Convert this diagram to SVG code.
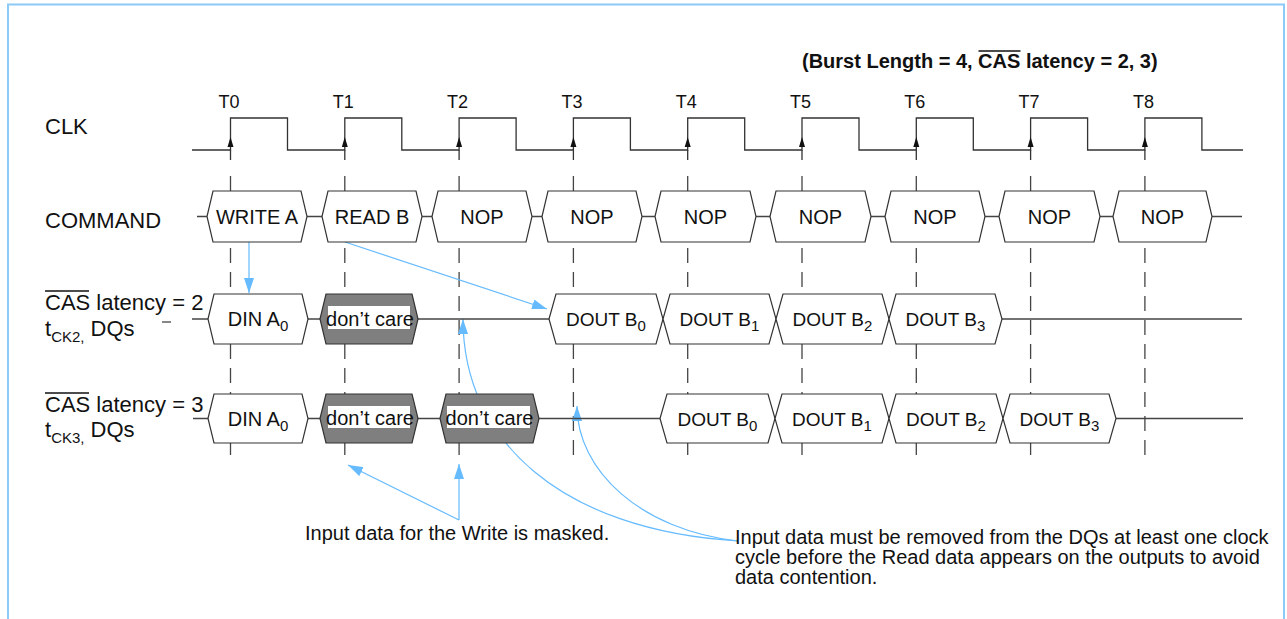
<svg xmlns="http://www.w3.org/2000/svg" width="1287" height="619" viewBox="0 0 1287 619">
<style>
.frame{fill:none;stroke:#8ccaf7;stroke-width:2}
.wave{fill:none;stroke:#333;stroke-width:1.3}
.grid{fill:none;stroke:#444;stroke-width:1.3;stroke-dasharray:15 9}
.row{fill:none;stroke:#444;stroke-width:1.3}
.hex{fill:#fff;stroke:#333;stroke-width:1.2}
.hexg{fill:#7f7f7f;stroke:#333;stroke-width:1.2}
.wbox{fill:#fff}
.t{font-family:"Liberation Sans",Arial,Helvetica,sans-serif;fill:#111}
.lbl{font-size:22px}
.tk{font-size:18px;text-anchor:middle}
.ht{font-size:20px;text-anchor:middle}
.hd{font-size:19px;text-anchor:middle}
.note{font-size:20px}
.sub{font-size:15px}
.ovl{stroke:#111;stroke-width:1.3}
.blue{fill:none;stroke:#66bbff;stroke-width:1.2}
.arr{fill:#111}
</style>
<defs>
<marker id="ah" viewBox="0 0 15 10" refX="15" refY="5" markerWidth="15" markerHeight="10" markerUnits="userSpaceOnUse" orient="auto">
<path d="M0,0 L15,5 L0,10 z" fill="#66bbff"/>
</marker>
</defs>

<g id="frame">
<path class="frame" d="M8,619 V4.5 H1284 V619"/>
</g>

<g id="header">
<text class="t" x="802" y="68" font-size="20" font-weight="bold">(Burst Length = 4, CAS latency = 2, 3)</text>
<line class="ovl" x1="978.5" y1="51" x2="1020.5" y2="51"/>
</g>

<g id="grid">
<line class="grid" x1="230.5" y1="176" x2="230.5" y2="456"/>
<line class="grid" x1="344.8" y1="176" x2="344.8" y2="456"/>
<line class="grid" x1="459.1" y1="176" x2="459.1" y2="456"/>
<line class="grid" x1="573.4" y1="176" x2="573.4" y2="456"/>
<line class="grid" x1="687.7" y1="176" x2="687.7" y2="456"/>
<line class="grid" x1="802" y1="176" x2="802" y2="456"/>
<line class="grid" x1="916.3" y1="176" x2="916.3" y2="456"/>
<line class="grid" x1="1030.6" y1="176" x2="1030.6" y2="456"/>
<line class="grid" x1="1144.9" y1="176" x2="1144.9" y2="456"/>
</g>

<g id="clk">
<text class="t lbl" x="45" y="134">CLK</text>
<path class="wave" d="M192,150 H230.5 V118 H287.5 V150 H344.8 V118 H401.8 V150 H459.1 V118 H516.1 V150 H573.4 V118 H630.4 V150 H687.7 V118 H744.7 V150 H802 V118 H859 V150 H916.3 V118 H973.3 V150 H1030.6 V118 H1087.6 V150 H1144.9 V118 H1201.9 V150 H1243"/>
<path class="wave" d="M230.5,150 V160 M344.8,150 V160 M459.1,150 V160 M573.4,150 V160 M687.7,150 V160 M802,150 V160 M916.3,150 V160 M1030.6,150 V160 M1144.9,150 V160"/>
<path class="arr" d="M230.5,137 l-3,10 h6 z M344.8,137 l-3,10 h6 z M459.1,137 l-3,10 h6 z M573.4,137 l-3,10 h6 z M687.7,137 l-3,10 h6 z M802,137 l-3,10 h6 z M916.3,137 l-3,10 h6 z M1030.6,137 l-3,10 h6 z M1144.9,137 l-3,10 h6 z"/>
<text class="t tk" x="229" y="108">T0</text>
<text class="t tk" x="343.3" y="108">T1</text>
<text class="t tk" x="457.6" y="108">T2</text>
<text class="t tk" x="571.9" y="108">T3</text>
<text class="t tk" x="686.2" y="108">T4</text>
<text class="t tk" x="800.5" y="108">T5</text>
<text class="t tk" x="914.8" y="108">T6</text>
<text class="t tk" x="1029.1" y="108">T7</text>
<text class="t tk" x="1143.4" y="108">T8</text>
</g>

<g id="connectors">
<path class="blue" d="M249,242 V293" marker-end="url(#ah)"/>
<path class="blue" d="M345,242 L547,309" marker-end="url(#ah)"/>
<path class="blue" d="M738,541 C560,530 463,440 463,319" marker-end="url(#ah)"/>
<path class="blue" d="M738,541 C640,530 577,470 577,406" marker-end="url(#ah)"/>
<path class="blue" d="M459,520 V464" marker-end="url(#ah)"/>
<path class="blue" d="M459,520 L348,465" marker-end="url(#ah)"/>
</g>

<g id="command">
<text class="t lbl" x="45" y="228">COMMAND</text>
<line class="row" x1="197" y1="216.5" x2="1242" y2="216.5"/>
<g id="cmd-write-a"><polygon class="hex" points="207,216.5 213,191 301,191 307,216.5 301,242 213,242"/><text class="t ht" x="257" y="223.5">WRITE A</text></g>
<g id="cmd-read-b"><polygon class="hex" points="322,216.5 328,191 416,191 422,216.5 416,242 328,242"/><text class="t ht" x="372" y="223.5">READ B</text></g>
<g id="cmd-nop-t2"><polygon class="hex" points="432,216.5 438,191 526,191 532,216.5 526,242 438,242"/><text class="t ht" x="482" y="223.5">NOP</text></g>
<g id="cmd-nop-t3"><polygon class="hex" points="542,216.5 548,191 636,191 642,216.5 636,242 548,242"/><text class="t ht" x="592" y="223.5">NOP</text></g>
<g id="cmd-nop-t4"><polygon class="hex" points="655,216.5 661,191 750,191 756,216.5 750,242 661,242"/><text class="t ht" x="705.5" y="223.5">NOP</text></g>
<g id="cmd-nop-t5"><polygon class="hex" points="770,216.5 776,191 865,191 871,216.5 865,242 776,242"/><text class="t ht" x="820.5" y="223.5">NOP</text></g>
<g id="cmd-nop-t6"><polygon class="hex" points="885,216.5 891,191 979,191 985,216.5 979,242 891,242"/><text class="t ht" x="935" y="223.5">NOP</text></g>
<g id="cmd-nop-t7"><polygon class="hex" points="999,216.5 1005,191 1094,191 1100,216.5 1094,242 1005,242"/><text class="t ht" x="1049.5" y="223.5">NOP</text></g>
<g id="cmd-nop-t8"><polygon class="hex" points="1113,216.5 1119,191 1206,191 1212,216.5 1206,242 1119,242"/><text class="t ht" x="1162.5" y="223.5">NOP</text></g>
</g>

<g id="cas2">
<text class="t lbl" x="45" y="310">CAS latency = 2</text>
<line class="ovl" x1="45" y1="291" x2="89" y2="291"/>
<text class="t lbl" x="45" y="336">t<tspan class="sub" dy="6" font-size="16">CK2,</tspan><tspan dy="-6"> DQs</tspan></text>
<line class="row" x1="162" y1="322" x2="171" y2="322"/>
<line class="row" x1="192" y1="319" x2="1242" y2="319"/>
<g id="cas2-din-a0"><polygon class="hex" points="208,319 214,294 302,294 308,319 302,344 214,344"/><text class="t ht" x="258" y="326">DIN A<tspan class="sub" dy="5">0</tspan></text></g>
<g id="cas2-dont-care"><polygon class="hexg" points="320,319 326,294 412,294 418,319 412,344 326,344"/><rect class="wbox" x="328" y="306" width="82" height="23"/><text class="t ht" x="370" y="325.5">don’t care</text></g>
<g id="cas2-dout-b0"><polygon class="hex" points="549,319 556,294 656,294 663,319 656,344 556,344"/><text class="t hd" x="606" y="326">DOUT B<tspan class="sub" dy="5">0</tspan></text></g>
<g id="cas2-dout-b1"><polygon class="hex" points="663,319 670,294 769,294 776,319 769,344 670,344"/><text class="t hd" x="719.5" y="326">DOUT B<tspan class="sub" dy="5">1</tspan></text></g>
<g id="cas2-dout-b2"><polygon class="hex" points="776,319 783,294 882,294 889,319 882,344 783,344"/><text class="t hd" x="832.5" y="326">DOUT B<tspan class="sub" dy="5">2</tspan></text></g>
<g id="cas2-dout-b3"><polygon class="hex" points="889,319 896,294 995,294 1002,319 995,344 896,344"/><text class="t hd" x="945.5" y="326">DOUT B<tspan class="sub" dy="5">3</tspan></text></g>
</g>

<g id="cas3">
<text class="t lbl" x="45" y="412">CAS latency = 3</text>
<line class="ovl" x1="45" y1="393" x2="89" y2="393"/>
<text class="t lbl" x="45" y="437">t<tspan class="sub" dy="6" font-size="16">CK3,</tspan><tspan dy="-6"> DQs</tspan></text>
<line class="row" x1="193" y1="418.5" x2="1243" y2="418.5"/>
<g id="cas3-din-a0"><polygon class="hex" points="208,418.5 214,394 302,394 308,418.5 302,443 214,443"/><text class="t ht" x="258" y="425.5">DIN A<tspan class="sub" dy="5">0</tspan></text></g>
<g id="cas3-dont-care-1"><polygon class="hexg" points="320,418.5 326,394 412,394 418,418.5 412,443 326,443"/><rect class="wbox" x="328" y="406" width="82" height="22"/><text class="t ht" x="370" y="424.5">don’t care</text></g>
<g id="cas3-dont-care-2"><polygon class="hexg" points="440,418.5 446,394 533,394 539,418.5 533,443 446,443"/><rect class="wbox" x="447" y="406" width="83" height="22"/><text class="t ht" x="489.5" y="424.5">don’t care</text></g>
<g id="cas3-dout-b0"><polygon class="hex" points="660,418.5 667,394 768,394 775,418.5 768,443 667,443"/><text class="t hd" x="717.5" y="425.5">DOUT B<tspan class="sub" dy="5">0</tspan></text></g>
<g id="cas3-dout-b1"><polygon class="hex" points="775,418.5 782,394 882,394 889,418.5 882,443 782,443"/><text class="t hd" x="832" y="425.5">DOUT B<tspan class="sub" dy="5">1</tspan></text></g>
<g id="cas3-dout-b2"><polygon class="hex" points="889,418.5 896,394 996,394 1003,418.5 996,443 896,443"/><text class="t hd" x="946" y="425.5">DOUT B<tspan class="sub" dy="5">2</tspan></text></g>
<g id="cas3-dout-b3"><polygon class="hex" points="1003,418.5 1010,394 1109,394 1116,418.5 1109,443 1010,443"/><text class="t hd" x="1059.5" y="425.5">DOUT B<tspan class="sub" dy="5">3</tspan></text></g>
</g>

<g id="note-masked">
<text class="t note" x="305" y="540">Input data for the Write is masked.</text>
</g>

<g id="note-contention">
<text class="t note" x="735" y="544">Input data must be removed from the DQs at least one clock</text>
<text class="t note" x="735" y="564">cycle before the Read data appears on the outputs to avoid</text>
<text class="t note" x="735" y="584">data contention.</text>
</g>
</svg>
